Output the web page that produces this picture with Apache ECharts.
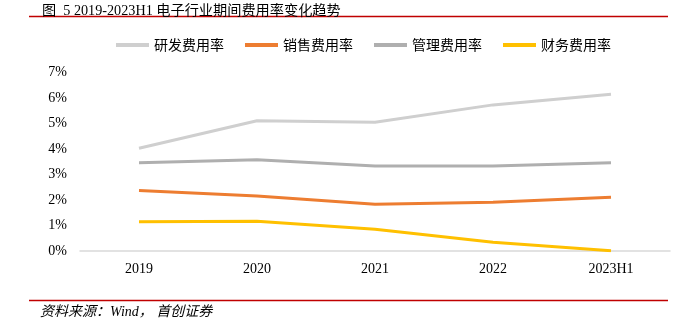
<!DOCTYPE html>
<html><head><meta charset="utf-8">
<style>html,body{margin:0;padding:0;background:#fff}#c{width:688px;height:325px}</style>
<script src="https://cdn.jsdelivr.net/npm/echarts@6/dist/echarts.min.js"></script>
</head><body><div id="c"></div>
<script>
var categories = ['2019','2020','2021','2022','2023H1'];
var yanfa = [4.03, 5.11, 5.05, 5.73, 6.15];
var xiaoshou = [2.37, 2.16, 1.83, 1.91, 2.11];
var guanli = [3.46, 3.58, 3.33, 3.33, 3.46];
var caiwu = [1.15, 1.17, 0.85, 0.34, 0.01];
var seriesNames = ['研发费用率','销售费用率','管理费用率','财务费用率'];
var colors = ['#cfcfcf','#ed7d31','#afafaf','#ffc000'];

var chart = echarts.init(document.getElementById('c'));
var data = [yanfa, xiaoshou, guanli, caiwu];
chart.setOption({
  animation:false,
  title:{text:'图  5 2019-2023H1 电子行业期间费用率变化趋势', left:37, top:-1,
    textStyle:{fontSize:14.2, fontWeight:'normal', color:'#000', fontFamily:'Liberation Serif, Noto Sans CJK SC'}},
  legend:{top:33, left:111, itemWidth:33, itemHeight:4, itemGap:21, icon:'rect',
    textStyle:{fontSize:14, color:'#000', fontFamily:'Noto Sans CJK SC'}, data:seriesNames},
  grid:{left:80, right:18, top:72.5, bottom:74},
  xAxis:{type:'category', data:categories, boundaryGap:true,
    axisLine:{lineStyle:{color:'#d9d9d9', width:1.5}}, axisTick:{show:false},
    axisLabel:{fontSize:14, color:'#000', margin:11, fontFamily:'Liberation Serif'}},
  yAxis:{type:'value', min:0, max:7, interval:1,
    axisLine:{show:false}, axisTick:{show:false}, splitLine:{show:false},
    axisLabel:{formatter:'{value}%', fontSize:14, color:'#000', margin:13, fontFamily:'Liberation Serif'}},
  graphic:[
    {type:'line', shape:{x1:29,y1:16.5,x2:668,y2:16.5}, style:{stroke:'#c00000', lineWidth:1.5}},
    {type:'line', shape:{x1:29,y1:300.5,x2:668,y2:300.5}, style:{stroke:'#c00000', lineWidth:1.5}},
    {type:'text', left:40, top:305, style:{text:'资料来源：Wind， 首创证券', fill:'#000', font:'italic 14px Liberation Serif, Noto Sans CJK SC'}}
  ],
  series: seriesNames.map(function(n,i){
    return {name:n, type:'line', data:data[i], symbol:'none', itemStyle:{color:colors[i]},
      lineStyle:{color:colors[i], width:3}};
  })
});
</script></body></html>
